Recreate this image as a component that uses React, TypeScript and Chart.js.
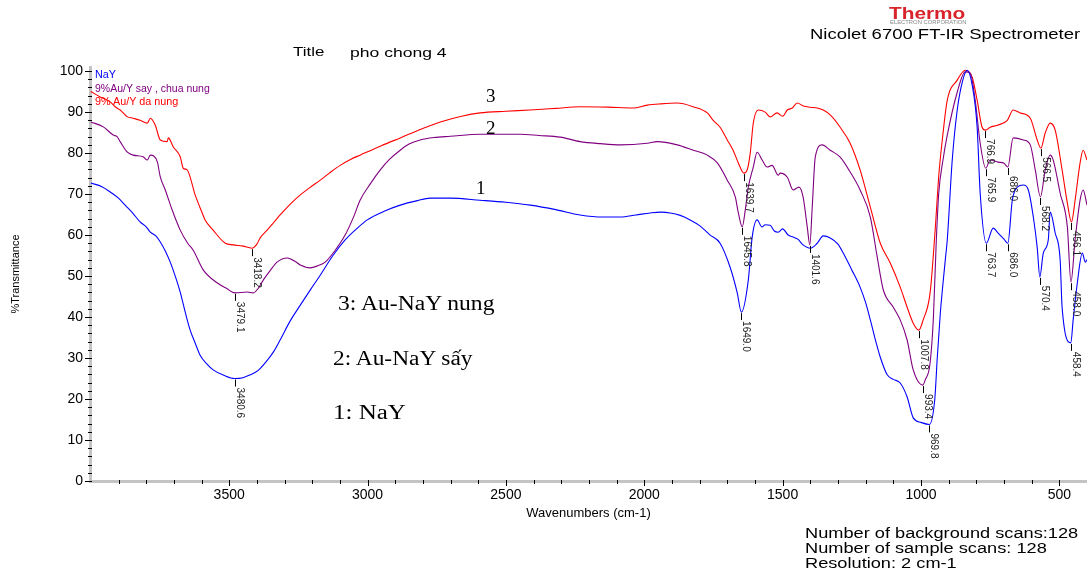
import React, { useEffect, useRef } from "react";
import { Chart, registerables } from "chart.js";

Chart.register(...registerables);

// ---------- data (wavenumber cm-1, %Transmittance) ----------
const nayWavenumbers = [
  4000, 3960, 3930, 3900, 3876, 3850, 3822, 3800, 3785, 3765, 3749, 3730, 3713, 3695, 3677, 3660, 3641, 3622, 3605, 3580,
  3558, 3520, 3480.6, 3450, 3424, 3395, 3370, 3340, 3316, 3280, 3243, 3205, 3171, 3125, 3081, 3040, 3001, 2940, 2882, 2820,
  2774, 2700, 2593, 2500, 2412, 2320, 2232, 2150, 2087, 2030, 1978, 1940, 1906, 1870, 1834, 1800, 1762, 1726, 1690, 1664,
  1649.0, 1624, 1610, 1592, 1575, 1563, 1545, 1530, 1516, 1500, 1480, 1462, 1445, 1426, 1400, 1375, 1353, 1328, 1300, 1281,
  1250, 1220, 1200, 1183, 1165, 1147, 1122, 1100, 1075, 1050, 1028, 1000, 969.8, 950, 941, 930, 912, 905, 887, 869,
  850, 833, 815, 797, 786, 763.7, 739, 721, 700, 686.0, 670, 652, 630, 612, 594, 580, 570.4, 558, 540, 533,
  515, 497, 490, 458.4, 450, 435, 417, 406, 400,
];
const nayTransmittance = [
  72.7, 71.8, 70.5, 69.0, 67.3, 65.5, 63.2, 62.0, 60.7, 59.8, 58.3, 56.0, 53.4, 50.0, 46.1, 41.5, 36.8, 33.5, 30.7, 28.5,
  27.1, 25.8, 25.0, 25.2, 25.9, 27.0, 28.8, 31.5, 34.4, 39.0, 42.9, 46.8, 50.2, 55.0, 58.8, 61.5, 63.7, 65.8, 67.3, 68.4,
  69.0, 69.0, 68.5, 68.0, 67.3, 66.2, 64.9, 64.4, 64.4, 64.9, 65.4, 65.6, 65.4, 64.8, 63.7, 62.3, 60.0, 58.0, 52.2, 45.9,
  41.2, 49.0, 59.5, 63.7, 62.0, 62.5, 62.4, 61.0, 60.7, 61.5, 60.0, 59.5, 59.0, 57.6, 56.8, 58.0, 59.8, 59.3, 57.8, 55.6,
  51.5, 47.3, 43.5, 39.3, 34.5, 30.2, 25.9, 24.8, 23.9, 20.5, 15.4, 14.3, 13.8, 20.0, 30.2, 41.0, 54.0, 58.8, 78.3, 90.5,
  97.5, 100.2, 96.6, 86.3, 70.2, 58.0, 61.7, 60.5, 59.0, 58.0, 68.5, 71.7, 72.2, 71.0, 64.4, 57.0, 49.8, 55.6, 58.8, 65.6,
  60.5, 53.9, 42.4, 33.7, 39.3, 48.3, 55.6, 53.4, 54.0,
];

const auDriedWavenumbers = [
  4000, 3955, 3919, 3905, 3894, 3869, 3847, 3811, 3796, 3785, 3760, 3749, 3731, 3706, 3677, 3650, 3630, 3594, 3543, 3510,
  3479.1, 3435, 3413, 3395, 3377, 3350, 3327, 3290, 3260, 3243, 3207, 3180, 3153, 3117, 3081, 3050, 3027, 2990, 2954, 2920,
  2882, 2850, 2810, 2760, 2701, 2593, 2448, 2380, 2304, 2232, 2160, 2087, 1989, 1953, 1881, 1823, 1772, 1736, 1700, 1671,
  1660, 1645.8, 1635, 1624, 1606, 1592, 1574, 1556, 1538, 1516, 1509, 1483, 1462, 1441, 1426, 1411, 1401.6, 1393, 1382, 1357,
  1328, 1292, 1256, 1220, 1183, 1158, 1136, 1100, 1075, 1050, 1028, 993.4, 985, 967, 955, 945, 936, 920, 906, 870,
  840, 822, 804, 786, 765.9, 750, 721, 700, 686.0, 667, 630, 605, 587, 568.2, 551, 533, 522, 497, 471, 458.0,
  443, 425, 414, 400,
];
const auDriedTransmittance = [
  87.6, 86.4, 84.4, 84.0, 82.8, 80.3, 79.5, 79.1, 78.3, 79.5, 77.9, 74.2, 71.0, 66.1, 61.2, 58.0, 56.3, 51.5, 48.3, 47.0,
  45.9, 46.1, 45.9, 47.0, 49.0, 51.5, 53.4, 54.4, 53.5, 52.7, 52.0, 52.5, 53.4, 56.3, 60.0, 64.5, 68.5, 72.5, 75.9, 78.5,
  80.7, 82.2, 83.2, 83.8, 84.1, 84.6, 84.6, 84.3, 83.9, 82.8, 82.3, 82.0, 82.4, 82.8, 82.0, 80.7, 79.5, 77.6, 73.4, 69.3,
  65.4, 62.0, 66.1, 71.7, 76.6, 80.2, 78.3, 76.6, 77.0, 74.6, 75.1, 74.1, 71.0, 71.7, 69.3, 62.0, 57.6, 66.8, 79.0, 82.0,
  80.7, 79.0, 75.4, 71.0, 64.4, 54.6, 46.6, 42.4, 39.3, 34.4, 27.1, 23.4, 24.6, 28.8, 40.0, 58.0, 70.0, 78.5, 84.0, 94.6,
  99.8, 99.5, 92.9, 82.4, 76.3, 78.3, 77.8, 77.5, 76.6, 83.7, 83.2, 82.0, 75.9, 69.3, 75.9, 79.5, 78.3, 70.2, 62.0, 48.5,
  58.8, 68.5, 71.0, 67.3,
];

const auCalcinedWavenumbers = [
  4000, 3966, 3930, 3912, 3894, 3869, 3847, 3822, 3796, 3785, 3767, 3749, 3724, 3720, 3702, 3677, 3666, 3652, 3623, 3600,
  3587, 3558, 3514, 3486, 3450, 3418.2, 3400, 3388, 3363, 3340, 3316, 3280, 3243, 3210, 3171, 3140, 3099, 3060, 3027, 2950,
  2882, 2800, 2737, 2660, 2593, 2500, 2412, 2320, 2232, 2130, 2040, 1989, 1942, 1881, 1823, 1772, 1751, 1726, 1700, 1679,
  1660, 1639.7, 1628, 1617, 1606, 1588, 1563, 1545, 1520, 1500, 1483, 1465, 1447, 1425, 1400, 1375, 1353, 1328, 1292, 1256,
  1220, 1183, 1147, 1111, 1075, 1050, 1028, 1007.8, 992, 967, 950, 935, 920, 905, 869, 840, 815, 797, 779, 766.9,
  750, 724, 688, 667, 641, 605, 580, 566.5, 551, 533, 515, 490, 471, 456.1, 443, 425, 414, 400,
];
const auCalcinedTransmittance = [
  95.0, 93.7, 92.5, 91.3, 90.5, 88.9, 88.5, 88.0, 87.3, 88.5, 86.8, 83.2, 82.8, 83.7, 81.5, 79.1, 76.3, 75.9, 69.8, 65.8,
  63.7, 61.2, 58.0, 57.6, 57.3, 56.8, 57.8, 59.3, 61.2, 63.0, 64.9, 67.5, 69.8, 71.5, 73.4, 75.0, 77.0, 78.5, 79.5, 81.8,
  83.7, 86.0, 87.6, 89.0, 89.8, 90.2, 90.5, 90.9, 91.3, 91.2, 91.0, 91.7, 92.0, 92.2, 91.3, 89.8, 88.0, 86.3, 83.2, 80.7,
  77.6, 75.1, 75.9, 80.0, 87.3, 90.5, 90.0, 88.8, 89.8, 89.0, 90.5, 91.0, 92.2, 91.5, 91.2, 91.0, 90.5, 89.3, 86.3, 82.4,
  75.9, 66.8, 58.0, 53.2, 47.3, 42.4, 38.5, 36.8, 39.3, 45.9, 60.0, 75.0, 85.0, 92.9, 97.8, 100.2, 98.5, 92.9, 86.3, 85.6,
  86.3, 86.8, 88.0, 90.5, 89.8, 88.5, 83.2, 81.2, 84.9, 87.3, 85.6, 75.9, 67.8, 63.2, 68.5, 77.6, 80.7, 78.3,
];

const seriesNames = ["NaY", "9%Au/Y say , chua nung", "9% Au/Y da nung"];
const seriesColors = ["#0000ff", "#800080", "#ff0000"];

// labelled peaks (wavenumbers) per series
const nayPeaks = [3480.6, 1649.0, 969.8, 763.7, 686.0, 570.4, 458.4];
const auDriedPeaks = [3479.1, 1645.8, 1401.6, 993.4, 765.9, 686.0, 568.2, 458.0];
const auCalcinedPeaks = [3418.2, 1639.7, 1007.8, 766.9, 566.5, 456.1];

const xTickValues = [3500, 3000, 2500, 2000, 1500, 1000, 500];
const yTickValues = [0, 10, 20, 30, 40, 50, 60, 70, 80, 90, 100];

const FONT = '"Liberation Sans", Arial, Helvetica, sans-serif';
const SERIF = '"Liberation Serif", "Times New Roman", serif';

const axisTicksPlugin = {
  id: "axisTicks",
  afterDraw(chart: any) {
    const { ctx, chartArea } = chart;
    const xs = chart.scales.x;
    const ys = chart.scales.y;
    ctx.save();
    ctx.strokeStyle = "#000";
    ctx.lineWidth = 1;
    ctx.beginPath();
    for (let v = 3900; v >= 500; v -= 100) {
      const px = Math.round(xs.getPixelForValue(v)) + 0.5;
      const major = v % 500 === 0;
      ctx.moveTo(px, chartArea.bottom - 1);
      ctx.lineTo(px, chartArea.bottom + (major ? 5 : 3));
    }
    for (let v = 0; v <= 100; v += 2) {
      const py = Math.round(ys.getPixelForValue(v)) + 0.5;
      const major = v % 10 === 0;
      ctx.moveTo(chartArea.left + 2, py);
      ctx.lineTo(chartArea.left - (major ? 5 : 2), py);
    }
    ctx.stroke();
    ctx.restore();
  },
};

const peakLabelPlugin = {
  id: "peakLabels",
  afterDatasetsDraw(chart: any) {
    const { ctx } = chart;
    const peakSets = [nayPeaks, auDriedPeaks, auCalcinedPeaks];
    ctx.save();
    ctx.font = `10px ${FONT}`;
    ctx.fillStyle = "#222";
    ctx.strokeStyle = "#000";
    ctx.lineWidth = 1;
    peakSets.forEach((peaks, si) => {
      const meta = chart.getDatasetMeta(si);
      const data = chart.data.datasets[si].data as any[];
      peaks.forEach((w) => {
        const idx = data.findIndex((d) => d.x === w);
        if (idx < 0) return;
        const el = meta.data[idx];
        const x = Math.round(el.x) + 0.5;
        const y = el.y;
        ctx.beginPath();
        ctx.moveTo(x, y + 1);
        ctx.lineTo(x, y + 8);
        ctx.stroke();
        ctx.save();
        ctx.translate(x, y + 9);
        ctx.rotate(Math.PI / 2);
        ctx.textAlign = "left";
        ctx.textBaseline = "alphabetic";
        ctx.fillText(w.toFixed(1), 0, -1.5);
        ctx.restore();
      });
    });
    ctx.restore();
  },
};

function Txt(props: {
  x: number;
  cy: number;
  size: number;
  sx?: number;
  color?: string;
  family?: string;
  weight?: string;
  children: React.ReactNode;
}) {
  const { x, cy, size, sx = 1, color = "#000", family = FONT, weight = "normal", children } = props;
  return (
    <div
      style={{
        position: "absolute",
        left: x,
        top: cy - size * 0.6,
        fontSize: size,
        lineHeight: `${size * 1.2}px`,
        fontFamily: family,
        fontWeight: weight as any,
        color,
        whiteSpace: "nowrap",
        transform: `scaleX(${sx})`,
        transformOrigin: "left center",
      }}
    >
      {children}
    </div>
  );
}

export default function App() {
  const canvasRef = useRef<HTMLCanvasElement | null>(null);

  useEffect(() => {
    if (!canvasRef.current) return;
    const build = (ws: number[], vs: number[]) => ws.map((w, i) => ({ x: w, y: vs[i] }));
    const datasets = [
      build(nayWavenumbers, nayTransmittance),
      build(auDriedWavenumbers, auDriedTransmittance),
      build(auCalcinedWavenumbers, auCalcinedTransmittance),
    ].map((data, i) => ({
      label: seriesNames[i],
      data,
      borderColor: seriesColors[i],
      borderWidth: 1.1,
      pointRadius: 0,
      fill: false,
      cubicInterpolationMode: "monotone" as const,
    }));

    const chart = new Chart(canvasRef.current, {
      type: "line",
      data: { datasets },
      options: {
        animation: false,
        responsive: false,
        devicePixelRatio: 1,
        events: [],
        layout: { padding: { top: 67, left: 0, right: 0, bottom: 0 } },
        plugins: { legend: { display: false }, tooltip: { enabled: false } },
        scales: {
          x: {
            type: "linear",
            reverse: true,
            min: 400,
            max: 4003,
            afterBuildTicks: (scale: any) => {
              scale.ticks = xTickValues.map((v) => ({ value: v }));
            },
            afterFit: (scale: any) => {
              scale.height = 90;
            },
            grid: { display: false, drawTicks: false },
            border: { display: true, color: "#c4c4c4", width: 3 },
            ticks: {
              autoSkip: false,
              maxRotation: 0,
              padding: 6,
              color: "#000",
              font: { family: FONT, size: 14 },
              callback: (v: any) => String(v),
            },
            title: {
              display: true,
              text: "Wavenumbers (cm-1)",
              color: "#000",
              font: { family: FONT, size: 13 },
              padding: { top: 0, bottom: 50 },
            },
          },
          y: {
            type: "linear",
            min: 0,
            max: 101,
            afterBuildTicks: (scale: any) => {
              scale.ticks = yTickValues.map((v) => ({ value: v }));
            },
            afterFit: (scale: any) => {
              scale.width = 90;
            },
            grid: { display: false, drawTicks: false },
            border: { display: true, color: "#c4c4c4", width: 3 },
            ticks: {
              autoSkip: false,
              padding: 7,
              color: "#000",
              font: { family: FONT, size: 14 },
              callback: (v: any) => String(v),
            },
            title: {
              display: true,
              text: "%Transmittance",
              color: "#000",
              font: { family: FONT, size: 11 },
              padding: { top: 9, bottom: 0 },
            },
          },
        },
      },
      plugins: [axisTicksPlugin, peakLabelPlugin],
    });
    return () => chart.destroy();
  }, []);

  return (
    <div style={{ position: "absolute", left: 0, top: 0, width: 1087, height: 571, background: "#fff", overflow: "hidden" }}>
      <canvas ref={canvasRef} width={1087} height={571} style={{ position: "absolute", left: 0, top: 0 }} />
      <Txt x={889} cy={14} size={16} sx={1.3} weight="bold" color="#d9232a">Thermo</Txt>
      <Txt x={890} cy={22.5} size={4.5} sx={1.3} color="#888">ELECTRON CORPORATION</Txt>
      <Txt x={810} cy={34} size={14} sx={1.32}>Nicolet 6700 FT-IR Spectrometer</Txt>
      <Txt x={293} cy={52} size={13} sx={1.3}>Title</Txt>
      <Txt x={350} cy={53} size={13} sx={1.35}>pho chong 4</Txt>
      <Txt x={95} cy={75} size={10} sx={1.08} color={seriesColors[0]}>{seriesNames[0]}</Txt>
      <Txt x={95} cy={89} size={10} sx={1.05} color={seriesColors[1]}>{seriesNames[1]}</Txt>
      <Txt x={95} cy={102} size={10} sx={1.08} color={seriesColors[2]}>{seriesNames[2]}</Txt>
      <Txt x={486} cy={96} size={19} family={SERIF}>3</Txt>
      <Txt x={486} cy={128} size={19} family={SERIF}>2</Txt>
      <Txt x={476} cy={188} size={19} family={SERIF}>1</Txt>
      <Txt x={338} cy={303} size={20} sx={1.18} family={SERIF}>3: Au-NaY nung</Txt>
      <Txt x={333} cy={358} size={20} sx={1.17} family={SERIF}>2: Au-NaY sấy</Txt>
      <Txt x={333} cy={412} size={20} sx={1.25} family={SERIF}>1: NaY</Txt>
      <Txt x={805} cy={533} size={14} sx={1.3}>Number of background scans:128</Txt>
      <Txt x={805} cy={548} size={14} sx={1.3}>Number of sample scans: 128</Txt>
      <Txt x={805} cy={563} size={14} sx={1.3}>Resolution: 2 cm-1</Txt>
    </div>
  );
}
